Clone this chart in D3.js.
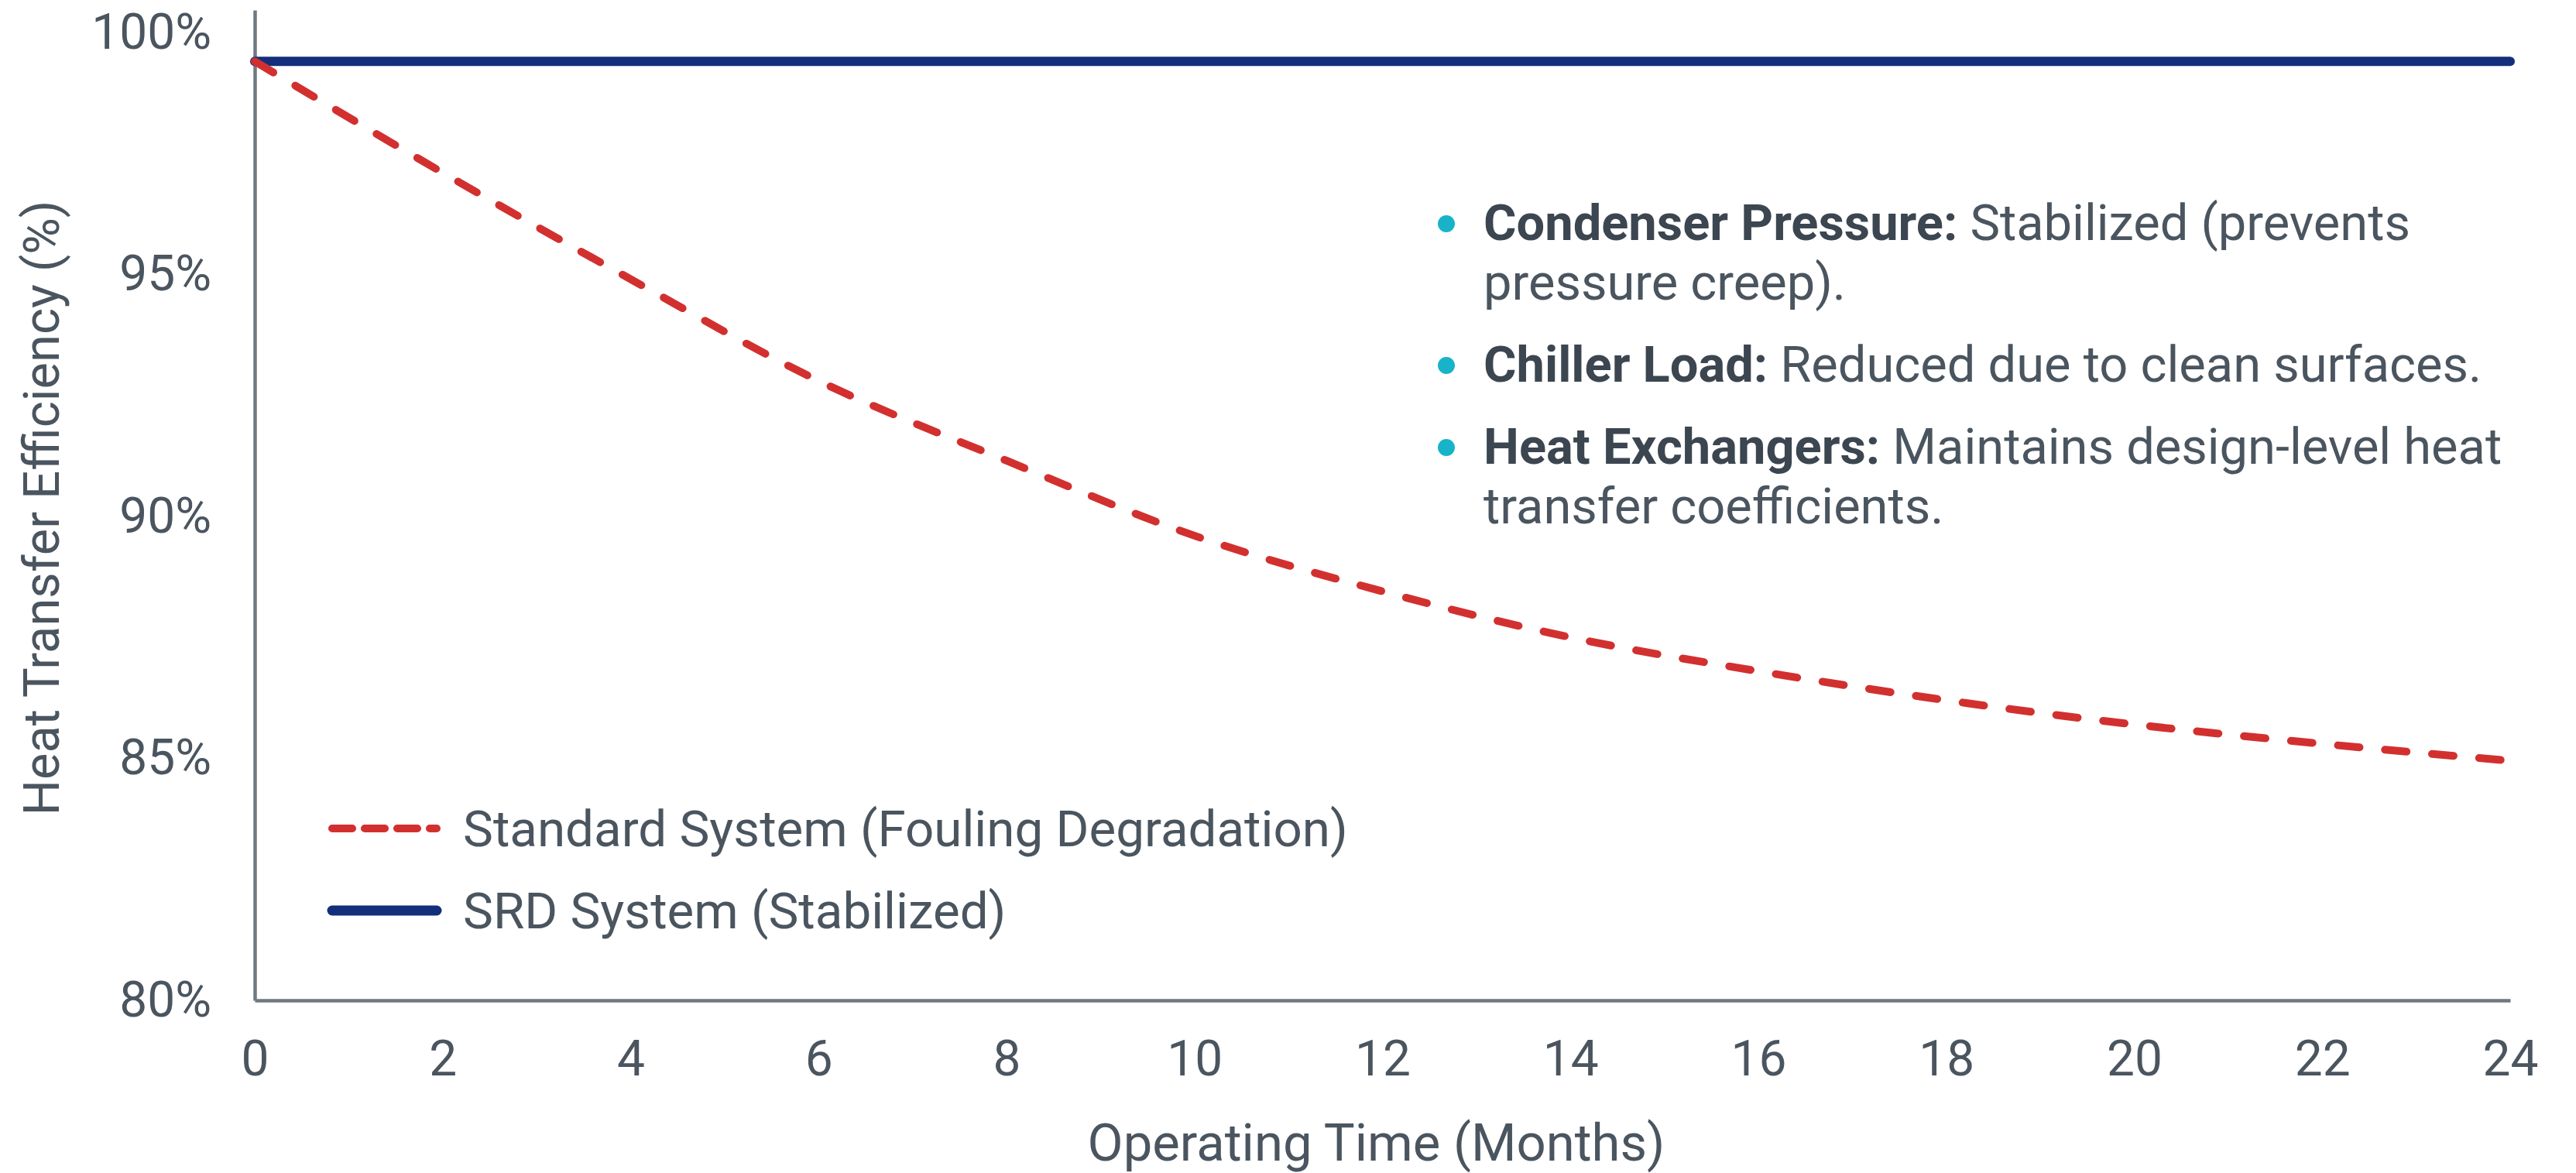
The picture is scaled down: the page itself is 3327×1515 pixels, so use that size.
<!DOCTYPE html>
<html>
<head>
<meta charset="utf-8">
<script src="https://cdn.jsdelivr.net/npm/d3@7"></script>
<style>
  html, body { margin: 0; padding: 0; background: #ffffff; }
  svg text { font-family: Roboto, "Noto Sans", sans-serif; }
</style>
</head>
<body>
<div id="chart"></div>
<script>
// heat transfer efficiency over time

// data
var months = [0, 2, 4, 6, 8, 10, 12, 14, 16, 18, 20, 22, 24];
var standardValues = [99.4, 97.1, 94.9, 92.8, 91.15, 89.6, 88.45, 87.5, 86.8, 86.2, 85.7, 85.3, 84.95];
var srdValues = [99.4, 99.4, 99.4, 99.4, 99.4, 99.4, 99.4, 99.4, 99.4, 99.4, 99.4, 99.4, 99.4];
var xTicks = [0, 2, 4, 6, 8, 10, 12, 14, 16, 18, 20, 22, 24];
var yTicks = [80, 85, 90, 95, 100];
var seriesNames = ["Standard System (Fouling Degradation)", "SRD System (Stabilized)"];
var xTitle = "Operating Time (Months)";
var yTitle = "Heat Transfer Efficiency (%)";
var notes = [
    { label: "Condenser Pressure:", lines: ["Stabilized (prevents", "pressure creep)."] },
    { label: "Chiller Load:", lines: ["Reduced due to clean surfaces."] },
    { label: "Heat Exchangers:", lines: ["Maintains design-level heat", "transfer coefficients."] }
];

// dimensions
var width = 3327;
var height = 1515;

var red = "#d2302f";
var navy = "#132f7b";
var axisColor = "#6f7982";
var textColor = "#4a555f";
var fontSize = 64;

var svg = d3.select("#chart")
    .append("svg")
    .attr("width", width)
    .attr("height", height);

// scales
var x = d3.scaleLinear()
    .domain([0, 24])
    .range([329, 3242]);

// top of the domain runs a little past 100% like the original axis line
var y = d3.scaleLinear()
    .domain([80, 100.46])
    .range([1292, 13]);

// axes
svg.append("g")
    .attr("transform", "translate(0," + y(80) + ")")
    .call(d3.axisBottom(x)
        .tickValues(xTicks)
        .tickSize(0)
        .tickSizeOuter(0)
        .tickPadding(52));

svg.append("g")
    .attr("transform", "translate(" + x(0) + ",0)")
    .call(d3.axisLeft(y)
        .tickValues(yTicks)
        .tickSize(0)
        .tickSizeOuter(0)
        .tickPadding(56)
        .tickFormat(function (d) { return d + "%"; }));

svg.selectAll(".domain")
    .attr("stroke", axisColor)
    .attr("stroke-width", 4.5);

svg.selectAll(".tick text")
    .attr("fill", textColor)
    .style("font-size", fontSize + "px")
    .style("font-family", "Roboto, sans-serif");

// axis titles
svg.append("text")
    .attr("x", (x(0) + x(24)) / 2 - 8)
    .attr("y", 1499)
    .attr("text-anchor", "middle")
    .attr("fill", textColor)
    .style("font-size", "67px")
    .text(xTitle);

svg.append("text")
    .attr("transform", "translate(76,656) rotate(-90)")
    .attr("text-anchor", "middle")
    .attr("fill", textColor)
    .style("font-size", "65px")
    .text(yTitle);

// lines
var line = d3.line()
    .x(function (d) { return x(d.m); })
    .y(function (d) { return y(d.v); })
    .curve(d3.curveMonotoneX);

var srdData = months.map(function (m, i) { return { m: m, v: srdValues[i] }; });
var stdData = months.map(function (m, i) { return { m: m, v: standardValues[i] }; });

svg.append("path")
    .datum(srdData)
    .attr("d", line)
    .attr("fill", "none")
    .attr("stroke", navy)
    .attr("stroke-width", 12)
    .attr("stroke-linecap", "round");

svg.append("path")
    .datum(stdData)
    .attr("d", line)
    .attr("fill", "none")
    .attr("stroke", red)
    .attr("stroke-width", 10)
    .attr("stroke-linecap", "round")
    .attr("stroke-dasharray", "28,33");

// legend
var legend = svg.append("g")
    .attr("transform", "translate(424,1070)");

var legendRows = [
    { name: seriesNames[0], color: red, dash: "26,16", w: 10 },
    { name: seriesNames[1], color: navy, dash: null, w: 13 }
];

var row = legend.selectAll("g")
    .data(legendRows)
    .enter()
    .append("g")
    .attr("transform", function (d, i) { return "translate(0," + (i * 106) + ")"; });

row.append("line")
    .attr("x1", 5)
    .attr("x2", 140)
    .attr("y1", 0)
    .attr("y2", 0)
    .attr("stroke", function (d) { return d.color; })
    .attr("stroke-width", function (d) { return d.w; })
    .attr("stroke-linecap", "round")
    .attr("stroke-dasharray", function (d) { return d.dash; });

row.append("text")
    .attr("x", 174)
    .attr("y", 0)
    .attr("dy", "0.35em")
    .attr("fill", textColor)
    .style("font-size", "65.5px")
    .text(function (d) { return d.name; });

// notes with cyan bullets
var noteX = 1916;
var lineH = 77;
var noteY = 310;
notes.forEach(function (n) {
    svg.append("circle")
        .attr("cx", 1868)
        .attr("cy", noteY - 21)
        .attr("r", 11)
        .attr("fill", "#19b3c9");

    n.lines.forEach(function (l, j) {
        var t = svg.append("text")
            .attr("x", noteX)
            .attr("y", noteY + j * lineH)
            .attr("fill", textColor)
            .style("font-size", "65px");
        if (j === 0) {
            t.append("tspan")
                .attr("font-weight", "bold")
                .attr("fill", "#3c4650")
                .text(n.label + " ");
        }
        t.append("tspan").text(l);
    });
    noteY += n.lines.length * lineH + 29;
});
</script>
</body>
</html>
